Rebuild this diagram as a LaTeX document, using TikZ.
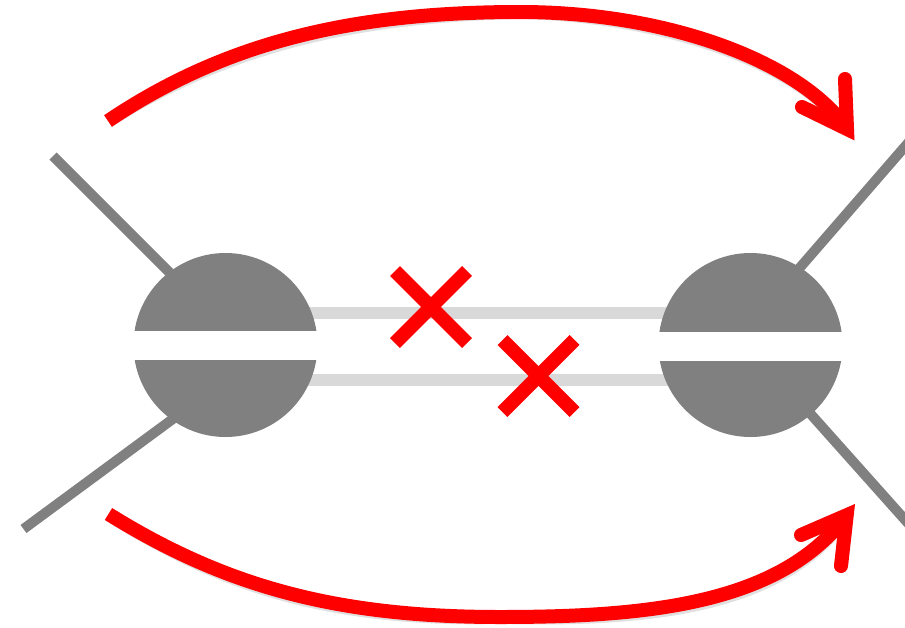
\documentclass[tikz,border=0pt]{standalone}
\definecolor{redc}{HTML}{FF0000}
\definecolor{grayc}{HTML}{808080}
\definecolor{lightc}{HTML}{D9D9D9}
\begin{document}
\begin{tikzpicture}[x=1pt,y=-1pt,
  arrowline/.style={draw=redc, line width=14pt},
  arrowhead/.style={draw=redc, line width=14pt, line cap=round, line join=miter},
  shadowline/.style={draw=black, opacity=0.12, line width=14pt},
  shadowhead/.style={draw=black, opacity=0.12, line width=14pt, line cap=round, line join=miter},
  crossline/.style={draw=redc, line width=14pt},
  spoke/.style={draw=grayc, line width=10pt},
  bar/.style={draw=lightc, line width=12pt},
  ball/.style={fill=grayc},
  gap/.style={fill=white}]
\useasboundingbox (0,0) rectangle (905,627);
\clip (0,0) rectangle (905,627);
% coordinates
\coordinate (LC) at (225.5,345);
\coordinate (RC) at (750.5,345);
\coordinate (s1a) at (53,156);
\coordinate (s1b) at (190,293);
\coordinate (s2a) at (23.5,529);
\coordinate (s2b) at (185,410);
\coordinate (s3a) at (915,135);
\coordinate (s3b) at (790,279);
\coordinate (s4a) at (795,396.5);
\coordinate (s4b) at (915,531);
\coordinate (b1a) at (300,313);
\coordinate (b1b) at (680,313);
\coordinate (b2a) at (300,380);
\coordinate (b2b) at (680,380);
\coordinate (t0) at (108,121);
\coordinate (tm) at (520,12);
\coordinate (tv) at (847,129);
\coordinate (tA) at (845,79);
\coordinate (tB) at (802,107);
\coordinate (u0) at (108.5,514);
\coordinate (um) at (500,617);
\coordinate (uv) at (846.7,515.2);
\coordinate (uC) at (841,566);
\coordinate (uD) at (801,535);
% shadows of arrows
\begin{scope}[shift={(2,3.5)}]
  \draw[shadowline] (t0) .. controls (224,43) and (350,12) .. (tm) .. controls (670,12) and (802,63) .. (tv);
  \draw[shadowhead] (tA) -- (tv) -- (tB);
  \draw[shadowline] (u0) .. controls (227.5,588) and (340,617) .. (um) .. controls (650,617) and (781,603.4) .. (uv);
  \draw[shadowhead] (uC) -- (uv) -- (uD);
\end{scope}
% spokes
\draw[spoke] (s1a) -- (s1b);
\draw[spoke] (s2a) -- (s2b);
\draw[spoke] (s3a) -- (s3b);
\draw[spoke] (s4a) -- (s4b);
% bars
\draw[bar] (b1a) -- (b1b);
\draw[bar] (b2a) -- (b2b);
% balls
\fill[ball] (LC) circle[radius=92];
\fill[ball] (RC) circle[radius=92];
\fill[gap] (130,331) rectangle (322,360);
\fill[gap] (655,332) rectangle (847,361);
% crosses
\draw[crossline] (395,271) -- (467,343);
\draw[crossline] (467,271) -- (395,343);
\draw[crossline] (502.5,340) -- (574.5,412);
\draw[crossline] (574.5,340) -- (502.5,412);
% arrows
\draw[arrowline] (t0) .. controls (224,43) and (350,12) .. (tm) .. controls (670,12) and (802,63) .. (tv);
\draw[arrowhead] (tA) -- (tv) -- (tB);
\draw[arrowline] (u0) .. controls (227.5,588) and (340,617) .. (um) .. controls (650,617) and (781,603.4) .. (uv);
\draw[arrowhead] (uC) -- (uv) -- (uD);
\end{tikzpicture}
\end{document}
